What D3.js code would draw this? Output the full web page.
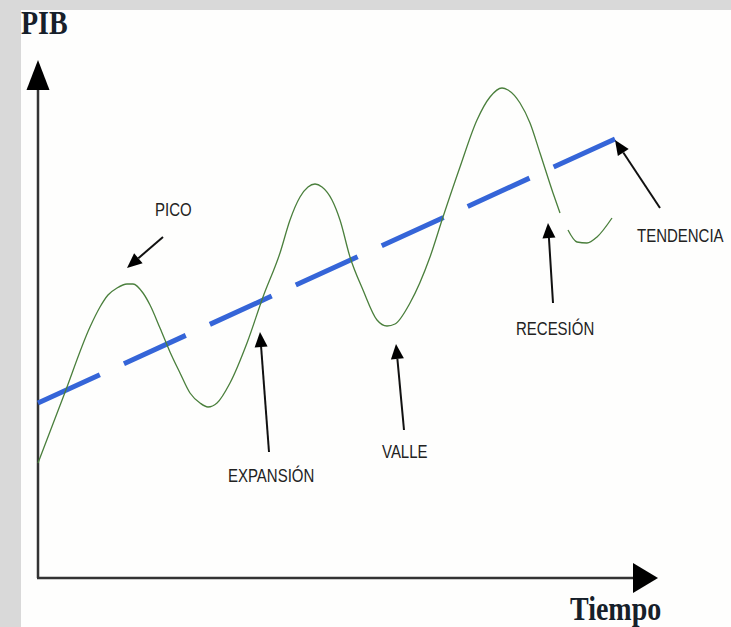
<!DOCTYPE html>
<html>
<head>
<meta charset="utf-8">
<script src="https://cdn.jsdelivr.net/npm/d3@7/dist/d3.min.js"></script>
<style>
  body { margin: 0; background: #d9d9d9; }
  svg { display: block; }
</style>
</head>
<body>
<div id="chart"></div>
<script>
/* Daten: Konjunkturzyklus (Zeit, PIB) in abstrakten Einheiten */
const cycleTime = [0, 2.6, 5.2, 6.2, 7.0, 7.9, 8.9, 9.5, 10.5, 11.2, 12.2, 13.2, 14.2, 15.2, 16.2, 17.0, 17.9, 19.2,
  20.9, 22.5, 24.2, 25.2, 26.2, 27.0, 27.7, 28.4, 29.4, 30.2, 31.2, 32.5, 33.9, 34.9, 35.7, 37.2, 39.2, 40.5, 42.2, 43.9,
  45.2, 46.4, 47.0, 48.2, 49.2, 50.2, 51.5, 52.2];
const cycleValue = [11.5, 18.3, 25.1, 27.1, 28.3, 29.0, 29.4, 29.4, 28.5, 27.3, 25.0, 22.6, 20.5, 18.5, 17.5, 17.1, 17.5, 19.5,
  23.5, 28.1, 32.5, 35.8, 38.1, 39.1, 39.4, 39.1, 37.8, 35.8, 32.1, 28.8, 25.8, 25.2, 25.4, 27.5, 32.1, 36.1, 41.1, 45.8,
  48.1, 49.0, 48.8, 47.5, 45.5, 42.5, 38.5, 36.5];
/* kleines Reststück nach der Rezession */
const tailTime = [53.0, 53.9, 54.9, 55.9, 57.4];
const tailValue = [34.8, 33.6, 33.5, 34.1, 36.0];
/* Trendlinie */
const trendTime = [0, 57.7];
const trendValue = [17.5, 43.9];

/* Beschriftungen mit Pfeilen (Textanker, Pfeilanfang, Pfeilspitze) */
const labels = ["PICO", "EXPANSIÓN", "VALLE", "RECESIÓN", "TENDENCIA"];
const labelAt = [[11.7, 36.2], [19.0, 9.6], [34.4, 12.0], [47.8, 24.3], [59.9, 33.6]];
const arrowFrom = [[12.5, 34.1], [23.1, 12.6], [36.6, 14.8], [51.5, 27.5], [62.2, 37.0]];
const arrowTo = [[8.9, 31.0], [22.2, 24.6], [35.8, 23.4], [51.0, 35.5], [57.7, 43.8]];

const width = 731, height = 627;

const svg = d3.select("#chart").append("svg")
  .attr("width", width)
  .attr("height", height);

/* weisser Zeichenbereich, grauer Rand oben und links */
svg.append("rect")
  .attr("x", 21).attr("y", 10)
  .attr("width", width - 21).attr("height", height - 10)
  .attr("fill", "#fefefd");

const x = d3.scaleLinear().domain([0, 62]).range([38, 658]);
const y = d3.scaleLinear().domain([0, 51.8]).range([578, 60]);

/* Achsen mit Pfeilspitzen */
const axisColor = "#333";
svg.append("line")
  .attr("x1", x(0)).attr("y1", y(0))
  .attr("x2", x(0)).attr("y2", y(51.8) + 25)
  .attr("stroke", axisColor).attr("stroke-width", 2.5);
svg.append("line")
  .attr("x1", x(0) - 1).attr("y1", y(0))
  .attr("x2", x(62) - 22).attr("y2", y(0))
  .attr("stroke", axisColor).attr("stroke-width", 2.5);

svg.append("path")
  .attr("d", `M${x(0)},${y(51.8)} L${x(0) - 11.5},${y(51.8) + 30} L${x(0) + 11.5},${y(51.8) + 30} Z`)
  .attr("fill", "#000");
svg.append("path")
  .attr("d", `M${x(62)},${y(0)} L${x(62) - 25},${y(0) - 15} L${x(62) - 25},${y(0) + 15} Z`)
  .attr("fill", "#000");

/* Achsentitel */
svg.append("text")
  .attr("transform", "translate(21,34) scale(1,1.2)")
  .attr("font-family", "Liberation Serif, serif")
  .attr("font-weight", "bold")
  .attr("font-size", 28)
  .attr("fill", "#16202a")
  .text("PIB");
svg.append("text")
  .attr("transform", "translate(570,620) scale(1,1.2)")
  .attr("font-family", "Liberation Serif, serif")
  .attr("font-weight", "bold")
  .attr("font-size", 28)
  .attr("fill", "#16202a")
  .text("Tiempo");

/* Trendlinie gestrichelt */
const line = d3.line()
  .x(d => x(d[0]))
  .y(d => y(d[1]));

svg.append("path")
  .datum(d3.zip(trendTime, trendValue))
  .attr("d", line)
  .attr("fill", "none")
  .attr("stroke", "#3565d8")
  .attr("stroke-width", 5)
  .attr("stroke-dasharray", "68,26.5");

/* Konjunkturkurve */
const curve = d3.line()
  .x(d => x(d[0]))
  .y(d => y(d[1]))
  .curve(d3.curveMonotoneX);

svg.append("path")
  .datum(d3.zip(cycleTime, cycleValue))
  .attr("d", curve)
  .attr("fill", "none")
  .attr("stroke", "#4a7f3c")
  .attr("stroke-width", 1.3);
svg.append("path")
  .datum(d3.zip(tailTime, tailValue))
  .attr("d", curve)
  .attr("fill", "none")
  .attr("stroke", "#4a7f3c")
  .attr("stroke-width", 1.3);

/* Pfeile zu den Beschriftungen */
labels.forEach((name, i) => {
  const x1 = x(arrowFrom[i][0]), y1 = y(arrowFrom[i][1]);
  const x2 = x(arrowTo[i][0]), y2 = y(arrowTo[i][1]);
  const ang = Math.atan2(y2 - y1, x2 - x1);
  const headLen = 15, headW = 6.5;
  const bx = x2 - headLen * Math.cos(ang), by = y2 - headLen * Math.sin(ang);
  const px = -Math.sin(ang) * headW, py = Math.cos(ang) * headW;

  svg.append("line")
    .attr("x1", x1).attr("y1", y1)
    .attr("x2", bx).attr("y2", by)
    .attr("stroke", "#111").attr("stroke-width", 2);
  svg.append("path")
    .attr("d", `M${x2},${y2} L${bx + px},${by + py} L${bx - px},${by - py} Z`)
    .attr("fill", "#000");

  svg.append("text")
    .attr("transform", `translate(${x(labelAt[i][0])},${y(labelAt[i][1])}) scale(1,1.2)`)
    .attr("font-family", "Liberation Sans, Arial, sans-serif")
    .attr("font-size", 15)
    .attr("fill", "#222")
    .text(name);
});
</script>
</body>
</html>
